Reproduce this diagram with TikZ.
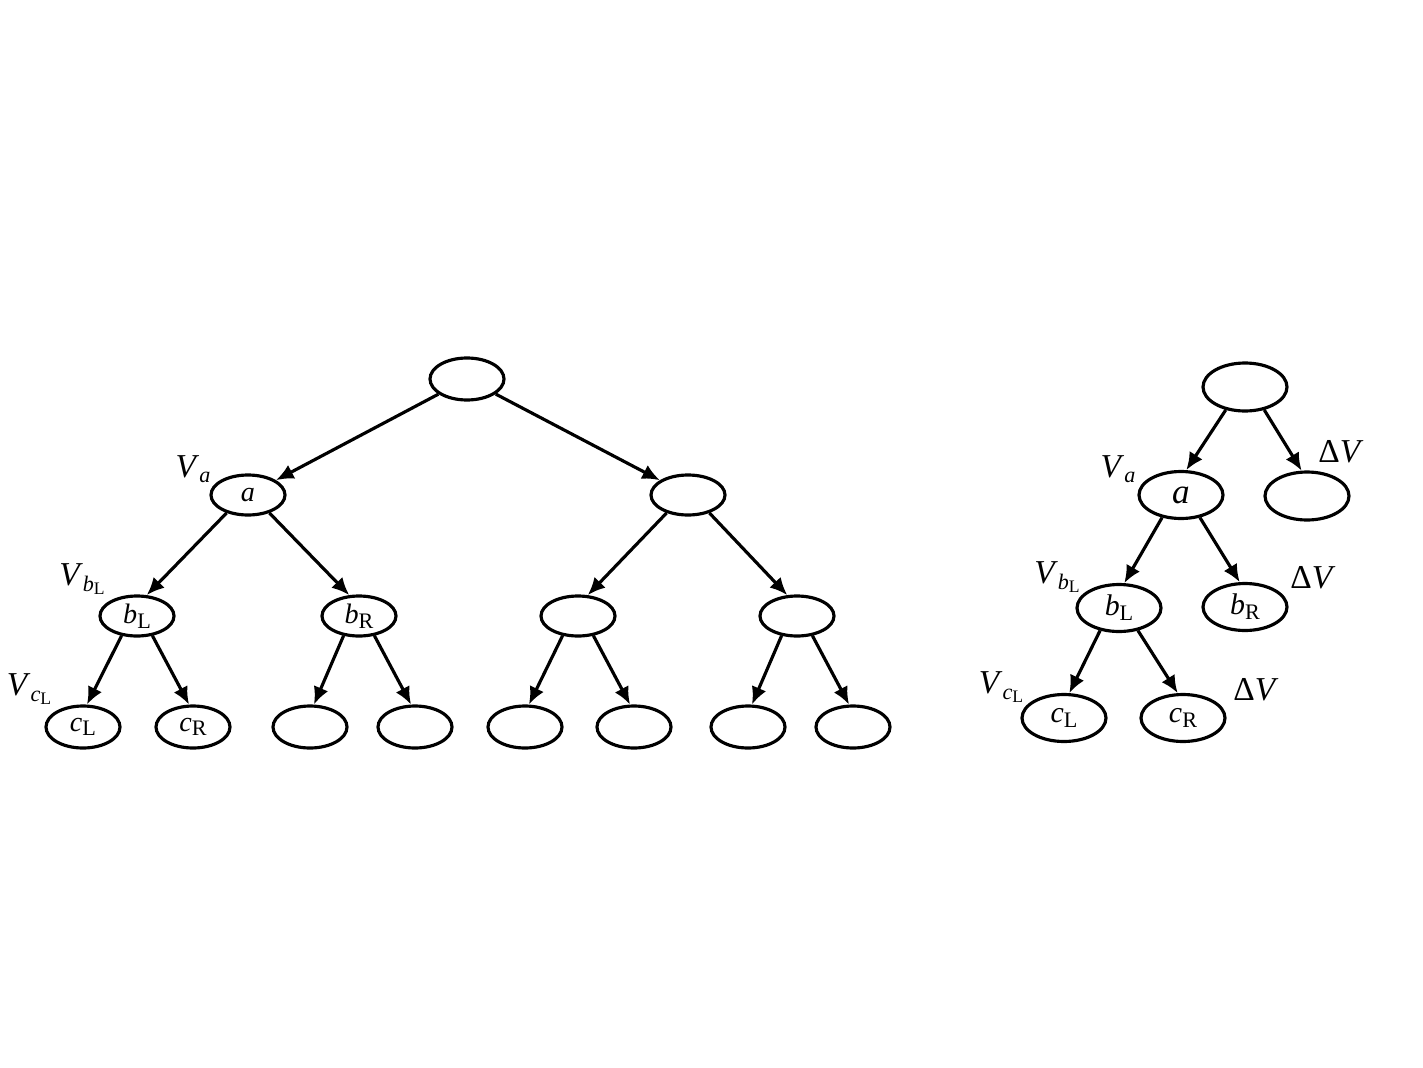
\documentclass[tikz,border=0pt]{standalone}
\usepackage{fontspec}
\setmainfont{Liberation Serif}
\usetikzlibrary{arrows.meta,shapes.geometric}
\newcommand{\lo}[1]{\raisebox{-0.35ex}{\fontsize{6.3}{7}\selectfont #1}}
\newcommand{\vsub}[2]{\textit{#1}\lo{\textit{#2}}}
\newcommand{\vsubsub}[3]{\textit{#1}\lo{\textit{#2}\raisebox{-0.3ex}{\fontsize{5}{6}\selectfont #3}}}
\begin{document}
\begin{tikzpicture}[line width=0.9pt, >={Latex[length=5pt,width=4.4pt]},
	tn/.style={ellipse, draw=black, inner sep=0pt, minimum width=0.74cm, minimum height=0.40cm, font=\fontsize{8}{10}\selectfont},
	bn/.style={tn, minimum width=0.84cm, minimum height=0.47cm, font=\fontsize{8.5}{11}\selectfont},
	lab/.style={font=\fontsize{9.5}{11}\selectfont, inner sep=0pt}]
	\useasboundingbox (0,0) rectangle (14.23,10.67);

	% full tree
	\node[tn, minimum height=0.42cm] (R) at (4.67,6.88) {};
	\node[tn] (A) at (2.48,5.72) {\textit{a}};
	\node[tn] (A2) at (6.88,5.72) {};
	\node[tn] (BL) at (1.37,4.51) {\textit{b}\lo{L}};
	\node[tn] (BR) at (3.59,4.51) {\textit{b}\lo{R}};
	\node[tn] (B3) at (5.78,4.51) {};
	\node[tn] (B4) at (7.97,4.51) {};
	\node[tn, minimum height=0.42cm] (CL) at (0.83,3.40) {\textit{c}\lo{L}};
	\node[tn, minimum height=0.42cm] (CR) at (1.93,3.40) {\textit{c}\lo{R}};
	\node[tn, minimum height=0.42cm] (C3) at (3.10,3.40) {};
	\node[tn, minimum height=0.42cm] (C4) at (4.15,3.40) {};
	\node[tn, minimum height=0.42cm] (C5) at (5.25,3.40) {};
	\node[tn, minimum height=0.42cm] (C6) at (6.34,3.40) {};
	\node[tn, minimum height=0.42cm] (C7) at (7.48,3.40) {};
	\node[tn, minimum height=0.42cm] (C8) at (8.53,3.40) {};

	\node[lab] (VA) at (1.93,5.98) {\vsub{V}{a}};
	\node[lab] (VB) at (0.82,4.88) {\vsubsub{V}{b}{L}};
	\node[lab] (VC) at (0.29,3.78) {\vsubsub{V}{c}{L}};

	\draw[->] (R) -- (A);
	\draw[->] (R) -- (A2);
	\foreach \p/\l/\r in {A/BL/BR, A2/B3/B4} {
		\draw[->] (\p.-140) -- (\l.65);
		\draw[->] (\p.-40) -- (\r.115);
	}
	\foreach \p/\l/\r in {BL/CL/CR, BR/C3/C4, B3/C5/C6, B4/C7/C8} {
		\draw[->] (\p.-128) -- (\l.80);
		\draw[->] (\p.-52) -- (\r.100);
	}

	% pruned tree
	\node[bn, minimum height=0.48cm] (PR) at (12.45,6.80) {};
	\node[bn] (PA) at (11.81,5.72) {\fontsize{10}{12}\selectfont\textit{a}};
	\node[bn, minimum height=0.48cm] (PA2) at (13.07,5.71) {};
	\node[bn] (PBL) at (11.19,4.59) {\textit{b}\lo{L}};
	\node[bn] (PBR) at (12.45,4.60) {\textit{b}\lo{R}};
	\node[bn] (PCL) at (10.64,3.49) {\textit{c}\lo{L}};
	\node[bn] (PCR) at (11.83,3.49) {\textit{c}\lo{R}};

	\node[lab] (PVA) at (11.18,5.98) {\vsub{V}{a}};
	\node[lab] (PVB) at (10.57,4.90) {\vsubsub{V}{b}{L}};
	\node[lab] (PVC) at (10.01,3.80) {\vsubsub{V}{c}{L}};
	\node[lab] (D1) at (13.41,6.15) {Δ\textit{V}};
	\node[lab] (D2) at (13.13,4.89) {Δ\textit{V}};
	\node[lab] (D3) at (12.56,3.77) {Δ\textit{V}};

	\foreach \p/\l/\r in {PR/PA/PA2, PA/PBL/PBR, PBL/PCL/PCR} {
		\draw[->] (\p.-130) -- (\l.78);
		\draw[->] (\p.-50) -- (\r.102);
	}
\end{tikzpicture}
\end{document}
